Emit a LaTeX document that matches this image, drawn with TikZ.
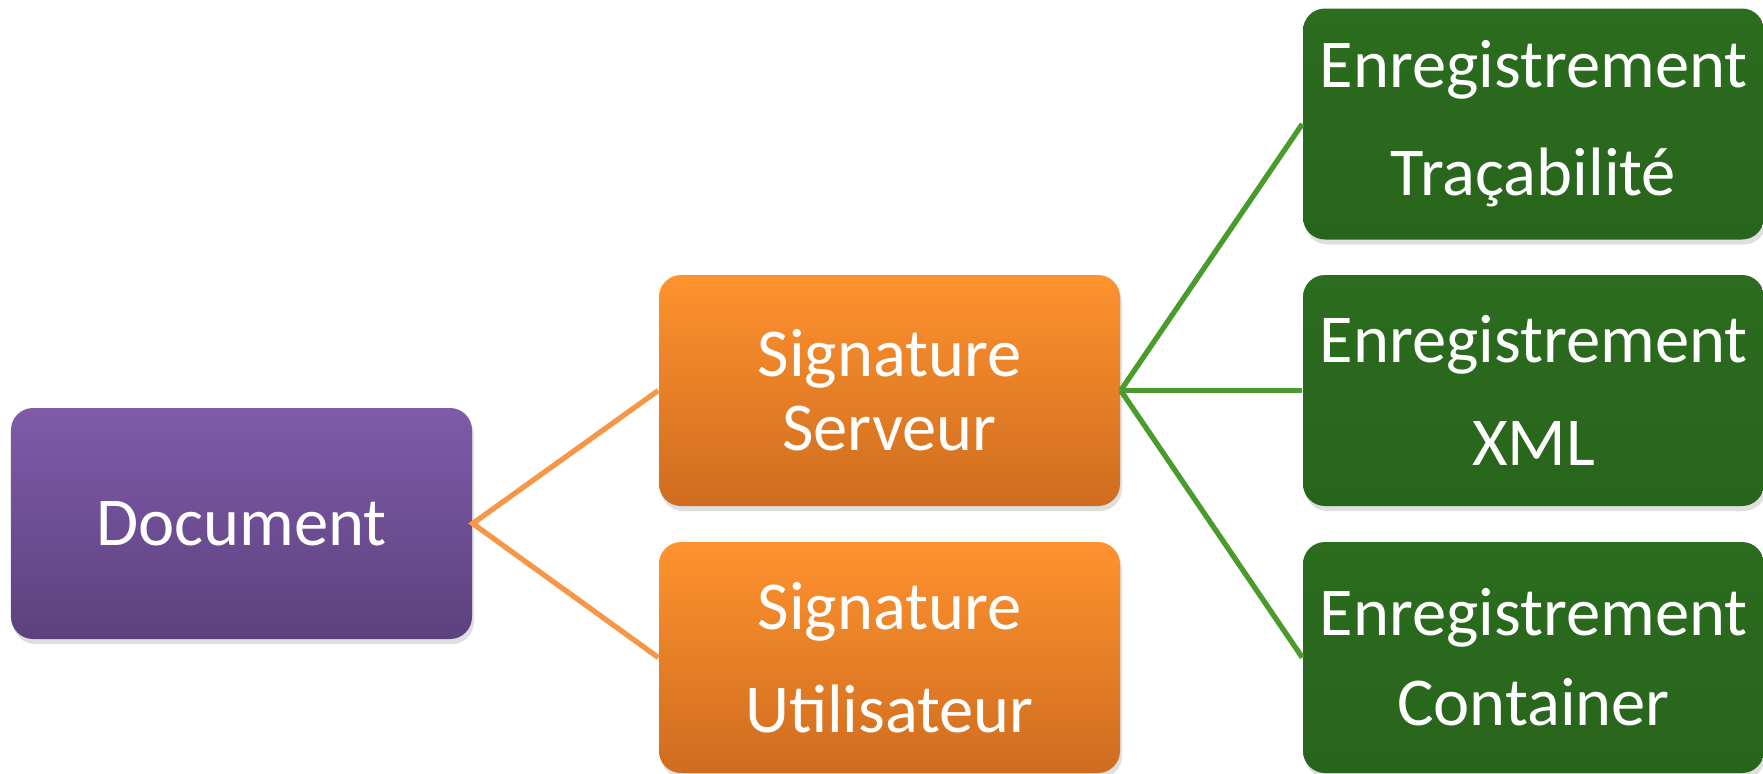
\documentclass[tikz,border=0pt]{standalone}
\usepackage{fontspec}
\setmainfont{Carlito}
\usepackage{tikz}
\usetikzlibrary{shadows}
\definecolor{docTop}{HTML}{7F5BA9}
\definecolor{docBot}{HTML}{5D417E}
\definecolor{sigTop}{HTML}{FE922E}
\definecolor{sigBot}{HTML}{CF6C1F}
\definecolor{regTop}{HTML}{2B6C1E}
\definecolor{regBot}{HTML}{28651C}
\definecolor{sigLine}{HTML}{F79646}
\definecolor{regLine}{HTML}{4A9B2B}

\begin{document}
\begin{tikzpicture}[
   box/.style={rectangle, rounded corners=0.22cm, minimum width=4.61cm, minimum height=2.31cm,
      inner sep=0pt, align=center, text=white, font=\fontsize{19.5}{23.4}\selectfont,
      drop shadow={opacity=0.25, shadow xshift=0.02cm, shadow yshift=-0.05cm}},
   docbox/.style={box, top color=docTop, bottom color=docBot},
   sigbox/.style={box, top color=sigTop, bottom color=sigBot},
   regbox/.style={box, top color=regTop, bottom color=regBot},
   siglink/.style={draw=sigLine, line width=1.5pt},
   reglink/.style={draw=regLine, line width=1.5pt}]
         \useasboundingbox (0,0) rectangle (17.63,-7.73);
         % left column
         \node[docbox] (doc) at (2.415,-5.235) {Document};
         % middle column
         \node[sigbox] (serv) at (8.895,-3.905) {Signature\\[-2.4pt]Serveur};
         \node[sigbox] (util) at (8.895,-6.575) {Signature\\[6pt]Utilisateur};
         % right column
         \node[regbox] (trac) at (15.335,-1.24) {Enregistrement\\[7.3pt]Traçabilité};
         \node[regbox] (xml) at (15.335,-3.905) {Enregistrement\\[6pt]XML};
         \node[regbox] (cont) at (15.335,-6.575) {Enregistrement\\[2.2pt]Container};
         % links
         \draw[siglink] (serv.west) -- (doc.east) -- (util.west);
         \foreach \dest in {trac,xml,cont} {\draw[reglink] (serv.east) -- (\dest.west);}
      \end{tikzpicture}
\end{document}
